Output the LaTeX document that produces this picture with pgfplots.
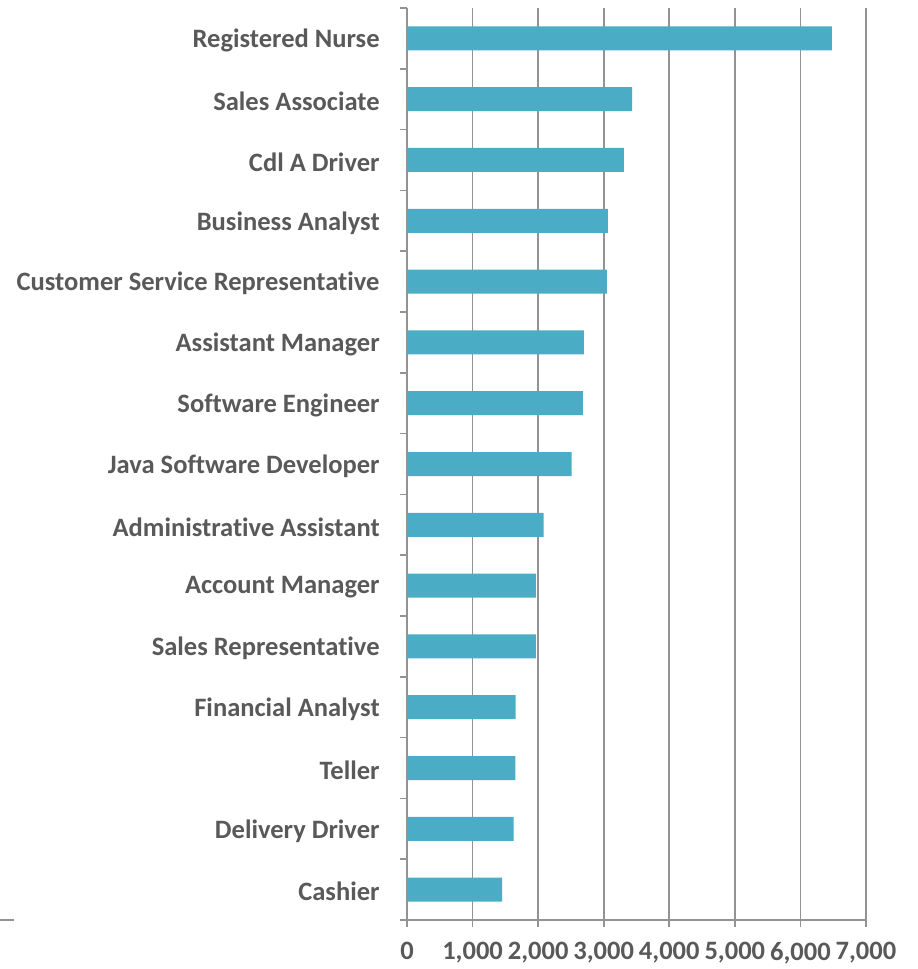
\documentclass[border=0pt]{standalone}
\usepackage{pgfplots}
\pgfplotsset{compat=1.18}
\usepackage{fontspec}
\setmainfont{Carlito}[RawFeature={-liga;-calt;-clig}]
\definecolor{barc}{HTML}{4BACC6}
\definecolor{gridc}{HTML}{939393}
\definecolor{txt}{HTML}{595959}
\begin{document}
\begin{tikzpicture}
\path[use as bounding box] (0pt,0pt) rectangle (687.75pt,-726.75pt);
\draw[gridc, line width=1.3pt] (0pt,-690pt) -- (10.5pt,-690pt);
\begin{axis}[
  at={(305.25pt,-690pt)}, anchor=south west,
  scale only axis, width=344.25pt, height=684pt,
  xbar, bar width=18pt,
  xmin=0, xmax=7000, ymin=-0.5, ymax=14.5,
  axis x line=bottom, axis y line=left,
  axis line style={gridc, line width=1.3pt, -},
  xtick={0,1000,...,7000},
  xticklabels={0,{1,000},{2,000},{3,000},{4,000},{5,000},{6,000},{7,000}},
  xmajorgrids, grid style={gridc, line width=1.3pt},
  ytick={-0.5,0.5,...,14.5},
  y tick label as interval,
  yticklabels={Cashier,Delivery Driver,Teller,Financial Analyst,Sales Representative,Account Manager,Administrative Assistant,Java Software Developer,Software Engineer,Assistant Manager,Customer Service Representative,Business Analyst,Cdl A Driver,Sales Associate,Registered Nurse},
  tick align=outside, major tick length=5pt,
  tick style={gridc, line width=1.3pt},
  tick label style={font=\bfseries\fontsize{19.9}{23}\selectfont, text=txt},
  yticklabel style={xshift=-12pt, yshift=-1.5pt},
  xticklabel style={yshift=-8pt},
]
\addplot[fill=barc, draw=none] coordinates {
(1452,0) (1626,1) (1651,2) (1656,3) (1965,4) (1965,5) (2082,6) (2509,7) (2682,8) (2697,9) (3047,10) (3062,11) (3306,12) (3433,13) (6481,14)
};
\end{axis}
\end{tikzpicture}
\end{document}
